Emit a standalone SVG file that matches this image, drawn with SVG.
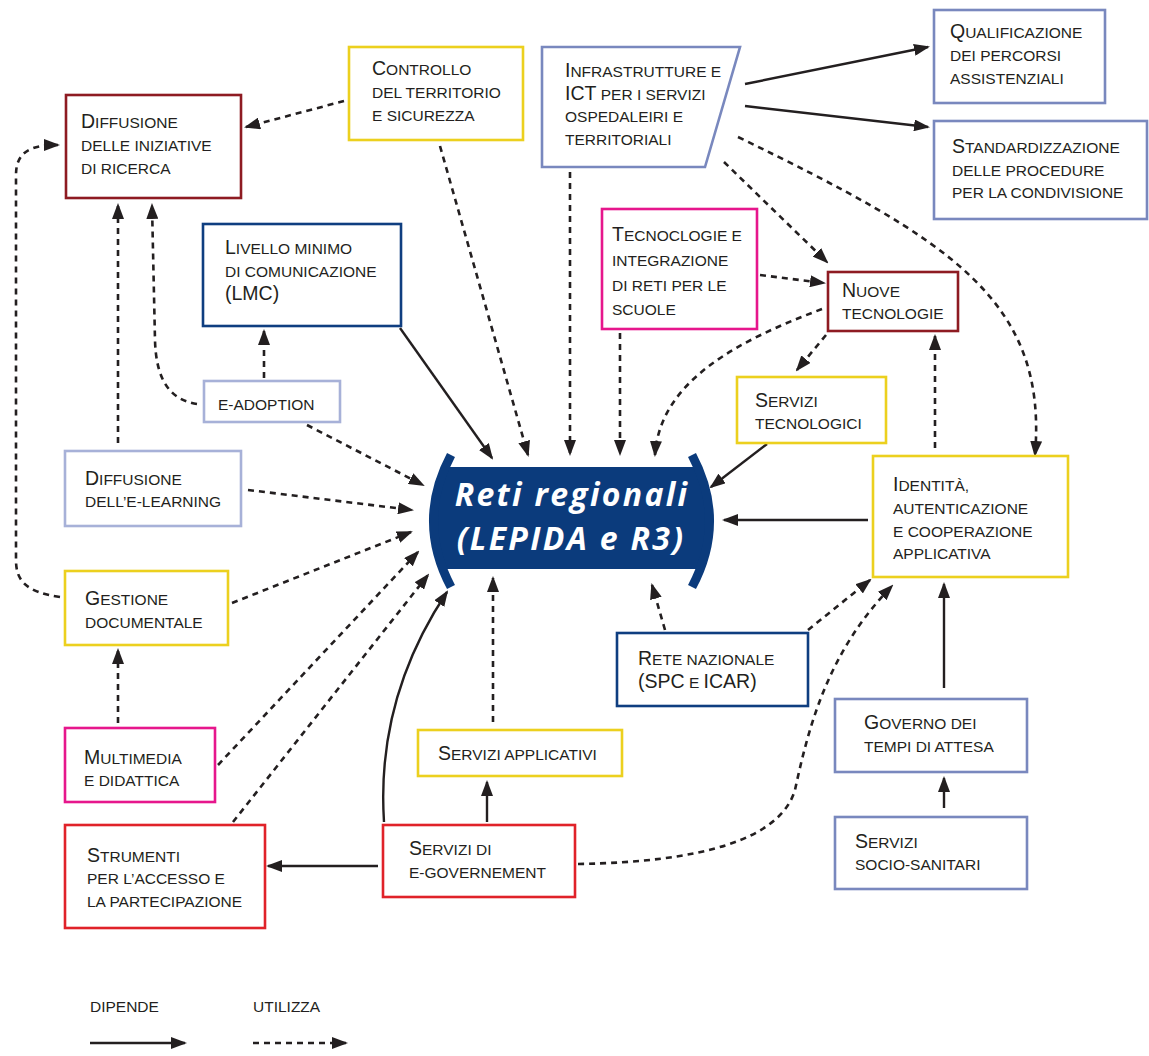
<svg xmlns="http://www.w3.org/2000/svg" width="1149" height="1056" viewBox="0 0 1149 1056">
<defs>
<style>
text{font-family:"Liberation Sans",Arial,sans-serif;font-size:15.5px;text-transform:uppercase;fill:#231f20}
.k{font-size:19.5px}
.box{fill:#fff;stroke-width:2.6}
.dr{stroke:#8e1b22}.ye{stroke:#ecd01e}.lb{stroke:#7988be}.pb{stroke:#a7b1d8}.db{stroke:#0f3e80}.mg{stroke:#e6168c}.rd{stroke:#e02229}
.s{fill:none;stroke:#231f20;stroke-width:2.4;marker-end:url(#ah)}
.d{fill:none;stroke:#231f20;stroke-width:2.6;stroke-dasharray:6 5;marker-end:url(#ah)}
.ct{font-family:"Open Sans","Liberation Sans",sans-serif;font-style:italic;font-weight:700;font-size:32px;text-transform:none;fill:#fff;letter-spacing:2.3px}
</style>
<marker id="ah" markerUnits="userSpaceOnUse" markerWidth="16" markerHeight="12" refX="14" refY="6" orient="auto"><path d="M0,0 L16,6 L0,12 Z" fill="#231f20"/></marker>
<clipPath id="bodyclip"><rect x="400" y="467" width="340" height="102"/></clipPath>
</defs>
<rect width="1149" height="1056" fill="#fff"/>

<g id="connectors">
<path class="s" d="M745,84 L928,47"/>
<path class="s" d="M745,106 L928,127"/>
<path class="s" d="M400,328 L492,458"/>
<path class="s" d="M767,444 L711,487"/>
<path class="s" d="M868,520 L724,520"/>
<path class="s" d="M944,688 L944,584"/>
<path class="s" d="M944,808 L944,778"/>
<path class="s" d="M487,822 L487,782"/>
<path class="s" d="M378,866 L268,866"/>
<path class="s" d="M384,822 C378,730 405,655 447,592"/>
<path class="d" d="M344,101 L246,127"/>
<path class="d" d="M440,146 L528,455"/>
<path class="d" d="M570,172 L570,454"/>
<path class="d" d="M724,162 L827,262"/>
<path class="d" d="M738,137 C950,240 1048,300 1035,455"/>
<path class="d" d="M760,275 L824,283"/>
<path class="d" d="M620,333 L620,454"/>
<path class="d" d="M822,309 C740,340 660,380 655,455"/>
<path class="d" d="M826,335 L797,370"/>
<path class="d" d="M935,448 L935,336"/>
<path class="d" d="M118,443 L118,205"/>
<path class="d" d="M197,404 C170,400 156,380 155,340 L152,205"/>
<path class="d" d="M264,378 L264,331"/>
<path class="d" d="M60,597 C25,592 16,580 16,560 L16,175 C16,152 30,145 58,145"/>
<path class="d" d="M307,425 L423,485"/>
<path class="d" d="M248,490 L412,510"/>
<path class="d" d="M232,603 L411,532"/>
<path class="d" d="M218,765 L418,552"/>
<path class="d" d="M233,822 L428,575"/>
<path class="d" d="M118,723 L118,650"/>
<path class="d" d="M493,722 L493,578"/>
<path class="d" d="M665,630 L652,585"/>
<path class="d" d="M808,630 L870,580"/>
<path class="d" d="M578,864 C700,862 780,840 795,790 C810,720 830,650 892,586"/>
<path class="s" d="M90,1043 L185,1043"/>
<path class="d" d="M253,1043 L346,1043"/>
</g>

<g id="reti">
<path d="M451,455 Q416,521 451,587 L692,587 Q727,521 692,455 Z" fill="#0b3b7c" clip-path="url(#bodyclip)"/>
<path d="M451,455 Q416,521 451,587" fill="none" stroke="#0b3b7c" stroke-width="9"/>
<path d="M692,455 Q727,521 692,587" fill="none" stroke="#0b3b7c" stroke-width="9"/>
<text class="ct" text-anchor="middle"><tspan x="572" y="506">Reti regionali</tspan><tspan x="571" y="550">(LEPIDA e R3)</tspan></text>
</g>

<g id="diffusione-ricerca">
<rect class="box dr" x="66" y="95" width="175" height="103"/>
<text x="81" y="128"><tspan class="k">D</tspan>iffusione</text>
<text x="81" y="151">delle iniziative</text>
<text x="81" y="174">di ricerca</text>
</g>

<g id="controllo">
<rect class="box ye" x="349" y="47" width="174" height="93"/>
<text x="372" y="75"><tspan class="k">C</tspan>ontrollo</text>
<text x="372" y="98">del territorio</text>
<text x="372" y="121">e sicurezza</text>
</g>

<g id="infrastrutture">
<path class="box lb" d="M542,47 L740,47 L705,167 L542,167 Z"/>
<text x="565" y="77"><tspan class="k">I</tspan>nfrastrutture e</text>
<text x="565" y="100"><tspan class="k">ICT</tspan> per i servizi</text>
<text x="565" y="122">ospedaleiri e</text>
<text x="565" y="145">territoriali</text>
</g>

<g id="qualificazione">
<rect class="box lb" x="934" y="10" width="171" height="93"/>
<text x="950" y="38"><tspan class="k">Q</tspan>ualificazione</text>
<text x="950" y="61">dei percorsi</text>
<text x="950" y="84">assistenziali</text>
</g>

<g id="standardizzazione">
<rect class="box lb" x="934" y="121" width="213" height="98"/>
<text x="952" y="153"><tspan class="k">S</tspan>tandardizzazione</text>
<text x="952" y="176">delle procedure</text>
<text x="952" y="198">per la condivisione</text>
</g>

<g id="lmc">
<rect class="box db" x="203" y="224" width="198" height="102"/>
<text x="225" y="254"><tspan class="k">L</tspan>ivello minimo</text>
<text x="225" y="277">di comunicazione</text>
<text x="225" y="300"><tspan class="k">(LMC)</tspan></text>
</g>

<g id="tecnologie-scuole">
<rect class="box mg" x="602" y="209" width="155" height="120"/>
<text x="612" y="241"><tspan class="k">T</tspan>ecnoclogie e</text>
<text x="612" y="266">integrazione</text>
<text x="612" y="291">di reti per le</text>
<text x="612" y="315">scuole</text>
</g>

<g id="nuove-tecnologie">
<rect class="box dr" x="828" y="272" width="130" height="59"/>
<text x="842" y="297"><tspan class="k">N</tspan>uove</text>
<text x="842" y="319">tecnologie</text>
</g>

<g id="e-adoption">
<rect class="box pb" x="204" y="381" width="136" height="41"/>
<text x="218" y="410">e-adoption</text>
</g>

<g id="servizi-tecnologici">
<rect class="box ye" x="737" y="377" width="149" height="66"/>
<text x="755" y="407"><tspan class="k">S</tspan>ervizi</text>
<text x="755" y="429">tecnologici</text>
</g>

<g id="e-learning">
<rect class="box pb" x="65" y="451" width="176" height="75"/>
<text x="85" y="485"><tspan class="k">D</tspan>iffusione</text>
<text x="85" y="507">dell’e-learning</text>
</g>

<g id="identita">
<rect class="box ye" x="873" y="456" width="195" height="121"/>
<text x="893" y="491"><tspan class="k">I</tspan>dentità,</text>
<text x="893" y="514">autenticazione</text>
<text x="893" y="537">e cooperazione</text>
<text x="893" y="559">applicativa</text>
</g>

<g id="gestione">
<rect class="box ye" x="65" y="571" width="163" height="74"/>
<text x="85" y="605"><tspan class="k">G</tspan>estione</text>
<text x="85" y="628">documentale</text>
</g>

<g id="rete-nazionale">
<rect class="box db" x="617" y="633" width="191" height="73"/>
<text x="638" y="665"><tspan class="k">R</tspan>ete nazionale</text>
<text x="638" y="688"><tspan class="k">(SPC</tspan> e <tspan class="k">ICAR)</tspan></text>
</g>

<g id="multimedia">
<rect class="box mg" x="65" y="728" width="150" height="74"/>
<text x="84" y="764"><tspan class="k">M</tspan>ultimedia</text>
<text x="84" y="786">e didattica</text>
</g>

<g id="servizi-applicativi">
<rect class="box ye" x="418" y="730" width="204" height="46"/>
<text x="438" y="760"><tspan class="k">S</tspan>ervizi applicativi</text>
</g>

<g id="governo">
<rect class="box lb" x="835" y="699" width="192" height="73"/>
<text x="864" y="729"><tspan class="k">G</tspan>overno dei</text>
<text x="864" y="752">tempi di attesa</text>
</g>

<g id="strumenti">
<rect class="box rd" x="65" y="825" width="200" height="103"/>
<text x="87" y="862"><tspan class="k">S</tspan>trumenti</text>
<text x="87" y="884">per l’accesso e</text>
<text x="87" y="907">la partecipazione</text>
</g>

<g id="e-governement">
<rect class="box rd" x="383" y="825" width="192" height="72"/>
<text x="409" y="855"><tspan class="k">S</tspan>ervizi di</text>
<text x="409" y="878">e-governement</text>
</g>

<g id="socio-sanitari">
<rect class="box lb" x="835" y="817" width="192" height="72"/>
<text x="855" y="848"><tspan class="k">S</tspan>ervizi</text>
<text x="855" y="870">socio-sanitari</text>
</g>

<g id="legend">
<text x="90" y="1012">dipende</text>
<text x="253" y="1012">utilizza</text>
</g>
</svg>
